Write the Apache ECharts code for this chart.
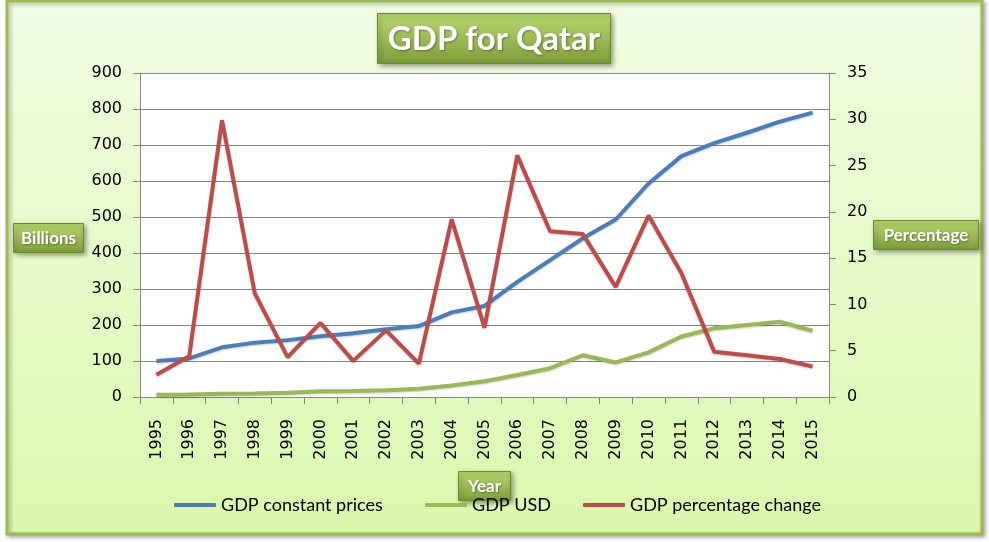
<!DOCTYPE html>
<html>
<head>
<meta charset="utf-8">
<script src="https://cdn.jsdelivr.net/npm/echarts@6/dist/echarts.min.js"></script>
<style>
html,body{margin:0;padding:0;background:#ffffff;}
#chart{width:989px;height:542px;}
</style>
</head>
<body>
<div id="chart"></div>
<script>
var years = ['1995','1996','1997','1998','1999','2000','2001','2002','2003','2004','2005','2006','2007','2008','2009','2010','2011','2012','2013','2014','2015'];
var gdpConstant = [100,107,138,151,158,169,177,188,197,235,253,320,380,441,493,593,669,705,734,765,790];
var gdpUSD = [6,7,9,10,12,16,17,19,23,32,44,61,80,116,96,124,168,191,200,209,184];
var gdpPctChange = [2.4,4.4,29.9,11.2,4.3,8.0,3.9,7.2,3.6,19.2,7.5,26.1,17.9,17.6,11.9,19.6,13.4,4.9,4.5,4.1,3.3];
var leftTicks = {min:0, max:900, interval:100};
var rightTicks = {min:0, max:35, interval:5};

var chart = echarts.init(document.getElementById('chart'), null, {renderer:'canvas'});

function btn(x, y, w, h, text, fs){
  return {
    type:'group', left:x, top:y, z:100,
    children:[
      {type:'rect', shape:{x:0,y:0,width:w,height:h},
       style:{fill:{type:'linear',x:0,y:0,x2:0,y2:1,colorStops:[{offset:0,color:'#b8d86c'},{offset:0.5,color:'#9bbb59'},{offset:1,color:'#7c9d36'}]},
              stroke:'#6b8a2c', lineWidth:1, shadowBlur:5, shadowColor:'rgba(0,0,0,0.4)', shadowOffsetX:2, shadowOffsetY:2}},
      {type:'text', x:w/2, y:h/2+1,
       style:{text:text, fill:'#ffffff', font:'bold '+fs+'px Lato, "Open Sans", sans-serif', align:'center', verticalAlign:'middle',
              textShadowBlur:2, textShadowColor:'rgba(0,0,0,0.35)', textShadowOffsetX:1, textShadowOffsetY:1}}
    ]
  };
}

var axisFont = '"DejaVu Sans", Verdana, sans-serif';
var legFont = 'Lato, "Open Sans", sans-serif';

function leg(name, left){
  return {data:[name], left:left, top:491, itemWidth:42, itemHeight:4, icon:'roundRect',
          textStyle:{fontFamily:legFont, fontSize:18, color:'#000'}};
}

chart.setOption({
  animation:false,
  backgroundColor:'#ffffff',
  graphic:[
    {type:'rect', z:-10, shape:{x:7,y:1,width:975,height:533},
     style:{fill:{type:'linear',x:0,y:0,x2:0,y2:1,colorStops:[{offset:0,color:'#f1fce3'},{offset:1,color:'#dbf8ad'}]},
            stroke:'#9bbb59', lineWidth:3, shadowBlur:4, shadowColor:'rgba(0,0,0,0.3)', shadowOffsetX:2, shadowOffsetY:2}},
    btn(377, 13, 233, 50, 'GDP for Qatar', 33),
    btn(13, 223, 70, 29, 'Billions', 17),
    btn(873, 220, 105, 29, 'Percentage', 17),
    btn(458, 471, 52, 29, 'Year', 17)
  ],
  grid:{left:140, right:160, top:73, bottom:145, show:true, backgroundColor:'#ffffff', borderWidth:0},
  legend:[
    leg('GDP constant prices', 169),
    leg('GDP USD', 420),
    leg('GDP percentage change', 578)
  ],
  xAxis:{type:'category', data:years, boundaryGap:true,
    axisLine:{lineStyle:{color:'#868686', width:1}},
    axisTick:{show:true, length:7, lineStyle:{color:'#868686'}},
    axisLabel:{rotate:90, fontSize:16, fontFamily:axisFont, color:'#000', margin:22, interval:0}},
  yAxis:[
    {type:'value', min:leftTicks.min, max:leftTicks.max, interval:leftTicks.interval, position:'left',
     axisLine:{show:true, lineStyle:{color:'#868686'}},
     axisTick:{show:true, length:7, lineStyle:{color:'#868686'}},
     splitLine:{show:true, lineStyle:{color:'#868686', width:1}},
     axisLabel:{fontSize:16, fontFamily:axisFont, color:'#000', margin:18}},
    {type:'value', min:rightTicks.min, max:rightTicks.max, interval:rightTicks.interval, position:'right',
     axisLine:{show:true, lineStyle:{color:'#868686'}},
     axisTick:{show:true, length:7, lineStyle:{color:'#868686'}},
     splitLine:{show:false},
     axisLabel:{fontSize:16, fontFamily:axisFont, color:'#000', margin:18}}
  ],
  series:[
    {name:'GDP constant prices', type:'line', yAxisIndex:0, data:gdpConstant, symbol:'none',
     lineStyle:{color:'#4a7ebb', width:4, shadowBlur:2, shadowColor:'rgba(0,0,0,0.2)', shadowOffsetY:1}, itemStyle:{color:'#4a7ebb'}},
    {name:'GDP USD', type:'line', yAxisIndex:0, data:gdpUSD, symbol:'none',
     lineStyle:{color:'#98b954', width:4, shadowBlur:2, shadowColor:'rgba(0,0,0,0.2)', shadowOffsetY:1}, itemStyle:{color:'#98b954'}},
    {name:'GDP percentage change', type:'line', yAxisIndex:1, data:gdpPctChange, symbol:'none',
     lineStyle:{color:'#be4b48', width:4, shadowBlur:2, shadowColor:'rgba(0,0,0,0.2)', shadowOffsetY:1}, itemStyle:{color:'#be4b48'}}
  ]
});
</script>
</body>
</html>
